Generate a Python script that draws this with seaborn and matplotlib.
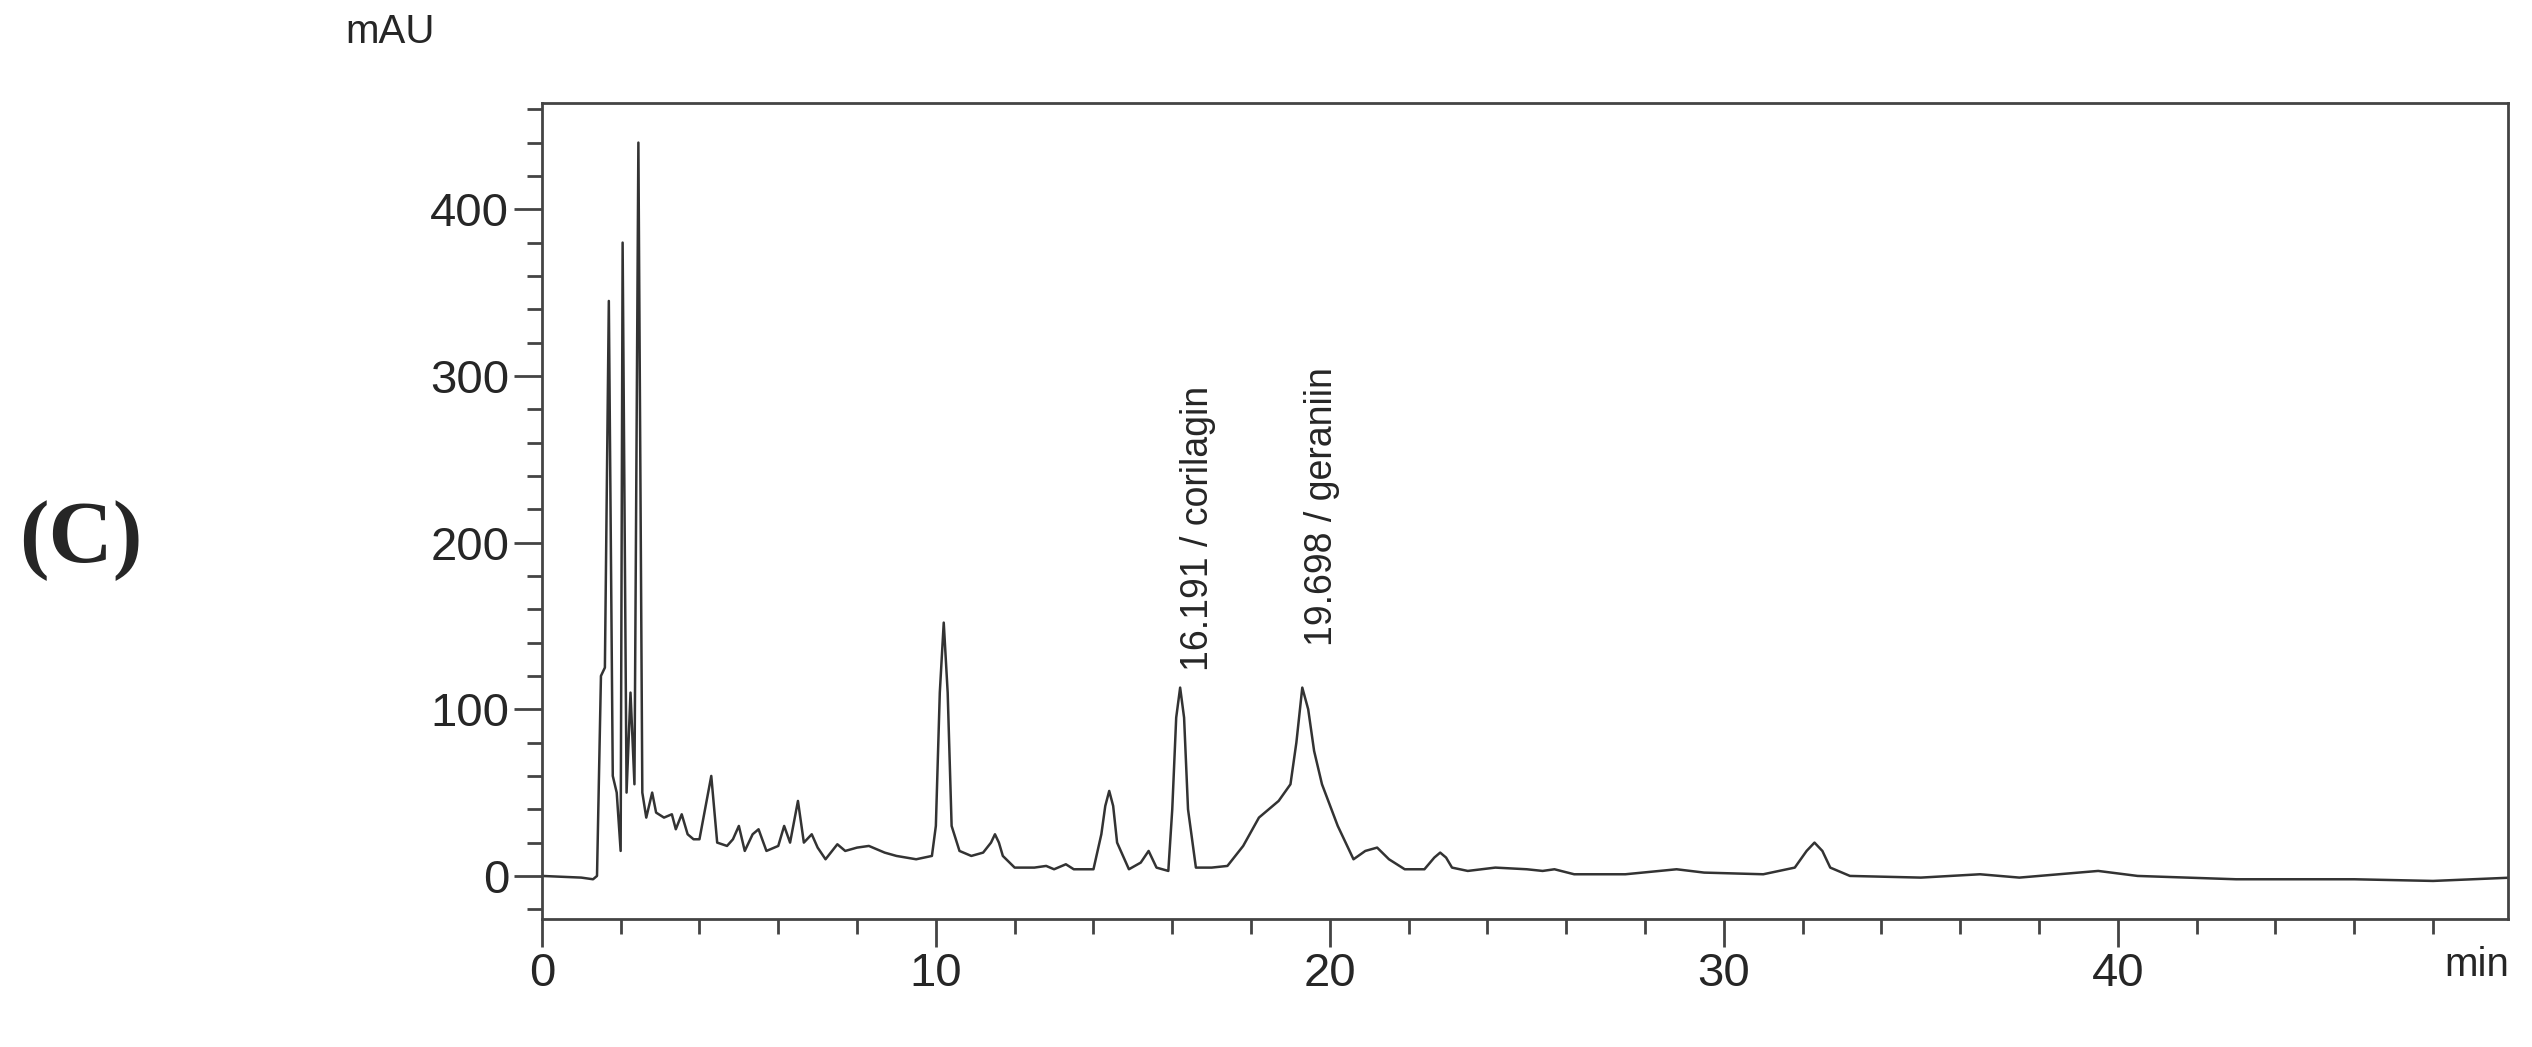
import seaborn as sns
import matplotlib.pyplot as plt
import pandas as pd
from matplotlib.ticker import MultipleLocator

sns.set_style('white')
plt.rcParams['font.family'] = ['Liberation Sans', 'DejaVu Sans']

# trace (time in min, absorbance in mAU)
tempo = [0, 1, 1.3, 1.4, 1.5, 1.6, 1.7, 1.8, 1.9, 2.0, 2.05, 2.15, 2.25, 2.35, 2.45, 2.55,
         2.65, 2.8, 2.9, 3.1, 3.3, 3.4, 3.55, 3.7, 3.85, 4.0, 4.3, 4.45, 4.7, 4.85, 5.0,
         5.15, 5.35, 5.5, 5.7, 6.0, 6.15, 6.3, 6.5, 6.65, 6.85, 7.0, 7.2, 7.5, 7.7, 8.0,
         8.3, 8.7, 9.0, 9.5, 9.9, 10.0, 10.1, 10.2, 10.3, 10.4, 10.6, 10.9, 11.2, 11.4,
         11.5, 11.6, 11.7, 12.0, 12.5, 12.8, 13.0, 13.3, 13.5, 14.0, 14.2, 14.3, 14.4,
         14.5, 14.6, 14.9, 15.2, 15.4, 15.6, 15.9, 16.0, 16.1, 16.2, 16.3, 16.4, 16.6,
         17.0, 17.4, 17.8, 18.2, 18.7, 19.0, 19.15, 19.3, 19.45, 19.6, 19.8, 20.2, 20.6,
         20.9, 21.2, 21.5, 21.9, 22.4, 22.65, 22.8, 22.95, 23.1, 23.5, 24.2, 25.0, 25.4,
         25.7, 26.2, 27.5, 28.8, 29.5, 31.0, 31.8, 32.1, 32.3, 32.5, 32.7, 33.2, 35.0,
         36.5, 37.5, 39.5, 40.5, 43, 46, 48, 50]
mau = [0, -1, -2, 0, 120, 125, 345, 60, 50, 15, 380, 50, 110, 55, 440, 50,
       35, 50, 38, 35, 37, 28, 37, 25, 22, 22, 60, 20, 18, 22, 30,
       15, 25, 28, 15, 18, 30, 20, 45, 20, 25, 17, 10, 19, 15, 17,
       18, 14, 12, 10, 12, 30, 110, 152, 110, 30, 15, 12, 14, 20,
       25, 20, 12, 5, 5, 6, 4, 7, 4, 4, 25, 42, 51,
       42, 20, 4, 8, 15, 5, 3, 40, 95, 113, 95, 40, 5,
       5, 6, 18, 35, 45, 55, 80, 113, 100, 75, 55, 30, 10,
       15, 17, 10, 4, 4, 11, 14, 11, 5, 3, 5, 4, 3,
       4, 1, 1, 4, 2, 1, 5, 15, 20, 15, 5, 0, -1,
       1, -1, 3, 0, -2, -2, -3, -1]

pico_tempo = [16.65, 19.8]
pico_altura = [123, 138]
pico_nome = ['16.191 / corilagin', '19.698 / geraniin']

df = pd.DataFrame({'tempo': tempo, 'mau': mau})

fig = plt.figure(figsize=(25.32, 10.47), dpi=100)
ax = fig.add_axes([0.214, 0.122, 0.7765, 0.78])
sns.lineplot(data=df, x='tempo', y='mau', color='#333333', linewidth=1.8, ax=ax)

ax.set_xlim(0, 49.9)
ax.set_ylim(-26, 464)
ax.xaxis.set_major_locator(MultipleLocator(10))
ax.xaxis.set_minor_locator(MultipleLocator(2))
ax.yaxis.set_major_locator(MultipleLocator(100))
ax.yaxis.set_minor_locator(MultipleLocator(20))
ax.tick_params(which='both', direction='out', color='#444444', width=2, labelsize=34)
ax.tick_params(which='major', length=20, left=True, bottom=True)
ax.tick_params(which='minor', length=11, left=True, bottom=True)
for s in ax.spines.values():
    s.set_color('#444444')
    s.set_linewidth(2)
ax.set_xlabel('')
ax.set_ylabel('')

for t, h, nome in zip(pico_tempo, pico_altura, pico_nome):
    ax.text(t, h, nome, rotation=90, ha='center', va='bottom', fontsize=27)

fig.text(0.154, 0.969, 'mAU', ha='center', va='center', fontsize=29)
fig.text(0.991, 0.078, 'min', ha='right', va='center', fontsize=29)
fig.text(0.032, 0.484, '(C)', ha='center', va='center', fontsize=64,
         family='Liberation Serif', weight='bold')

fig.savefig('out.png', dpi=100)
